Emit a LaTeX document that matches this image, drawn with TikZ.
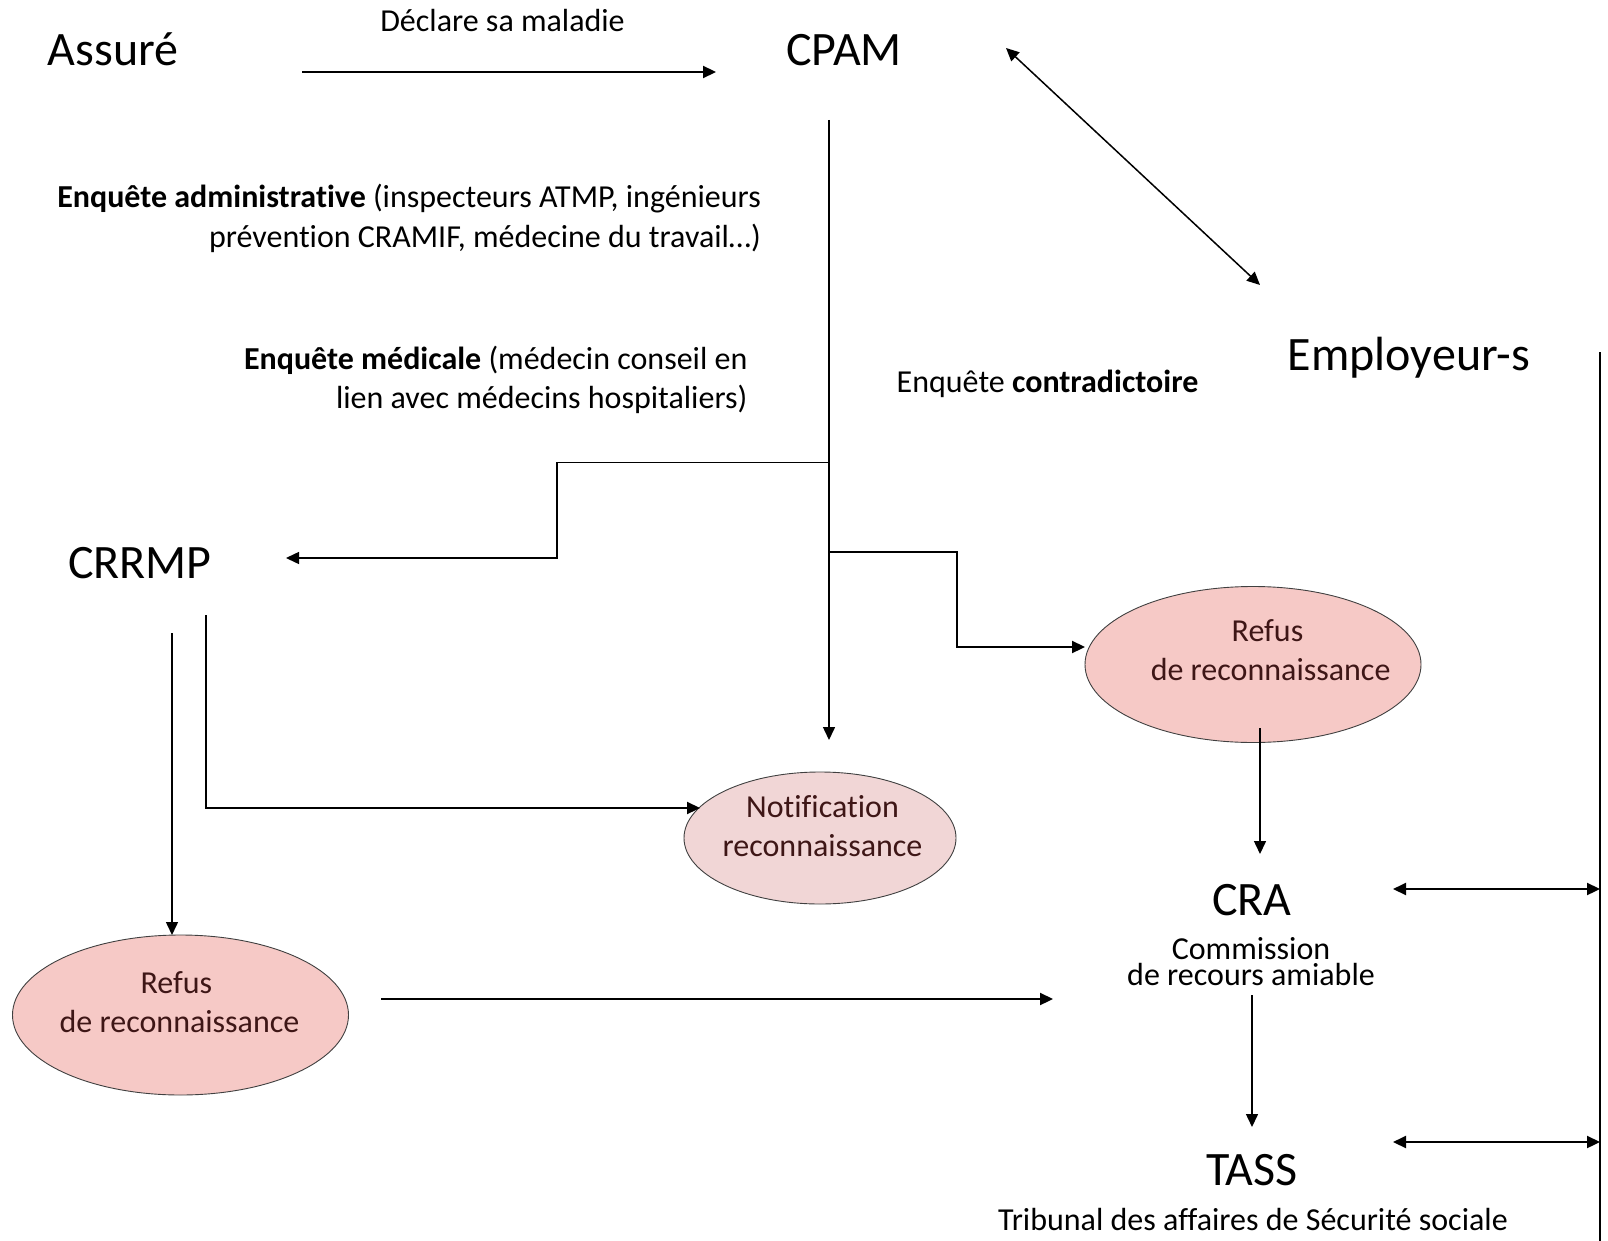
\documentclass[tikz,border=0pt]{standalone}
\usepackage{fontspec}
\setmainfont{Carlito}[Ligatures=NoCommon]
\usetikzlibrary{arrows.meta,shapes.geometric}
\definecolor{refusfill}{RGB}{246,201,198}
\definecolor{notiffill}{RGB}{241,214,214}
\definecolor{etext}{RGB}{62,22,22}
\begin{document}
\begin{tikzpicture}[x=1pt,y=-1pt,
 lab/.style={font=\fontsize{48}{57}\selectfont,inner sep=0pt,anchor=base},
 txt/.style={font=\fontsize{32}{38}\selectfont,inner sep=0pt,anchor=base},
 etxt/.style={txt,text=etext},
 oval/.style={ellipse,draw=black!75,line width=0.9pt,inner sep=0pt},
 thk/.style={line width=2.2pt},
 thn/.style={line width=1.5pt},
 tip/.style={-{Triangle[length=13pt,width=12pt]}},
 dtip/.style={{Triangle[length=13pt,width=12pt]}-{Triangle[length=13pt,width=12pt]}}
]
\useasboundingbox (0,0) rectangle (1608,1241);

% ellipses
\node[oval,fill=refusfill,minimum width=336pt,minimum height=156pt] (rref) at (1253,664.5) {};
\node[oval,fill=notiffill,minimum width=272pt,minimum height=132pt] (notif) at (820,838) {};
\node[oval,fill=refusfill,minimum width=336pt,minimum height=160pt] (lref) at (180.5,1015) {};

% main labels
\node[lab] (assure) at (113,65.6) {Assuré};
\node[lab] (cpam) at (844,65.6) {CPAM};
\node[lab] (crrmp) at (140,578) {CRRMP};
\node[lab] (empl) at (1409,370) {Employeur-s};
\node[lab] (cra) at (1252,915) {CRA};
\node[lab] (tass) at (1252,1185.5) {TASS};

% texts
\node[txt] (decl) at (502.5,32) {Déclare sa maladie};
\node[txt,anchor=base east] (adm1) at (761,208) {\textbf{Enquête administrative} (inspecteurs ATMP, ingénieurs};
\node[txt,anchor=base east] (adm2) at (761,248) {prévention CRAMIF, médecine du travail…)};
\node[txt,anchor=base east] (med1) at (747.6,369) {\textbf{Enquête médicale} (médecin conseil en};
\node[txt,anchor=base east] (med2) at (747.6,408) {lien avec médecins hospitaliers)};
\node[txt] (contra) at (1047.5,392) {Enquête \textbf{contradictoire}};
\node[inner sep=0pt,align=center,font=\fontsize{32}{26.5}\selectfont] (com) at (1251,961.7) {Commission\\de recours amiable};
\node[txt] (trib) at (1253,1230.6) {Tribunal des affaires de Sécurité sociale};

\node[etxt] (rref1) at (1267.5,641) {Refus};
\node[etxt] (rref2) at (1270.6,680) {de reconnaissance};
\node[etxt] (notif1) at (822.5,817) {Notification};
\node[etxt] (notif2) at (822.5,856) {reconnaissance};
\node[etxt] (lref1) at (176.4,993) {Refus};
\node[etxt] (lref2) at (179.5,1032) {de reconnaissance};

% connector end points
\coordinate (as) at (302,72);
\coordinate (ae) at (716,72);
\coordinate (d1) at (1006,48);
\coordinate (d2) at (1260,285);
\coordinate (v0) at (829,120);
\coordinate (v1) at (829,740);
\coordinate (bl) at (829,462.5);
\coordinate (blend) at (286,558);
\coordinate (br) at (829,552);
\coordinate (brend) at (1085,647);
\coordinate (c1) at (206,615);
\coordinate (c1end) at (700,808);
\coordinate (c2) at (172,633);
\coordinate (c2end) at (172,935);
\coordinate (l1) at (381,999);
\coordinate (l1end) at (1053,999);
\coordinate (r1) at (1260,728);
\coordinate (r1end) at (1260,854);
\coordinate (t0) at (1252,995);
\coordinate (t1) at (1252,1127);
\coordinate (crar) at (1393,889);
\coordinate (crae) at (1600,889);
\coordinate (tassr) at (1393,1142);
\coordinate (tasse) at (1600,1142);
\coordinate (vr0) at (1600,352);
\coordinate (vr1) at (1600,1241);

% connectors
\draw[thk,tip] (as) -- (ae);
\draw[thn,dtip] (d1) -- (d2);
\draw[thn,tip] (v0) -- (v1);
\draw[thn,tip] (bl) -- (557,462.5) -- (557,558) -- (blend);
\draw[thk,tip] (br) -- (957,552) -- (957,647) -- (brend);
\draw[thk,tip] (c1) -- (206,808) -- (c1end);
\draw[thn,tip] (c2) -- (c2end);
\draw[thk,tip] (l1) -- (l1end);
\draw[thn,tip] (r1) -- (r1end);
\draw[thn,tip] (t0) -- (t1);
\draw[thk,dtip] (crar) -- (crae);
\draw[thk,dtip] (tassr) -- (tasse);
\draw[line width=2pt] (vr0) -- (vr1);
\end{tikzpicture}
\end{document}
